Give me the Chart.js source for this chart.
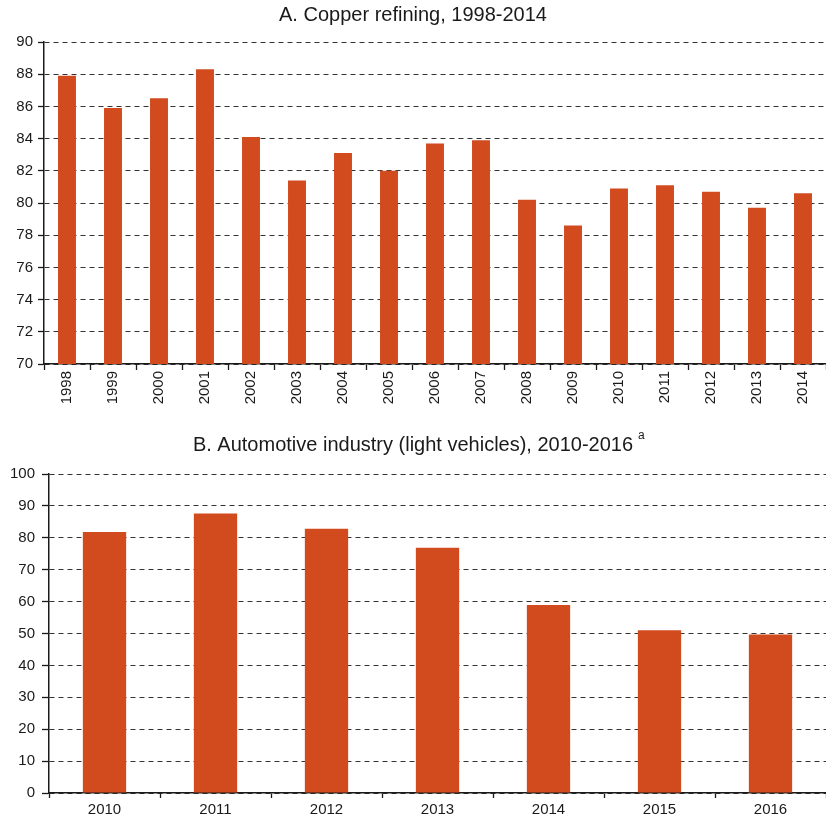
<!DOCTYPE html>
<html>
<head>
<meta charset="utf-8">
<script src="https://cdn.jsdelivr.net/npm/chart.js@4/dist/chart.umd.min.js"></script>
<style>
  html, body { margin: 0; padding: 0; background: #ffffff; }
  #wrap { position: relative; width: 826px; height: 815px; overflow: hidden; }
  canvas { display: block; }
</style>
</head>
<body>
<div id="wrap">
  <canvas id="copper" width="826" height="414"></canvas>
  <canvas id="auto" width="826" height="401"></canvas>
</div>
<script>
// Panel A: copper refining
const copperYears = ['1998','1999','2000','2001','2002','2003','2004','2005','2006','2007','2008','2009','2010','2011','2012','2013','2014'];
const copperValues = [87.9, 85.9, 86.5, 88.3, 84.1, 81.4, 83.1, 82.0, 83.7, 83.9, 80.2, 78.6, 80.9, 81.1, 80.7, 79.7, 80.6];
const copperTitle = 'A. Copper refining, 1998-2014';

// Panel B: automotive industry (light vehicles)
const autoYears = ['2010','2011','2012','2013','2014','2015','2016'];
const autoValues = [81.8, 87.6, 82.8, 76.9, 58.9, 51.0, 49.7];
const autoTitle = 'B. Automotive industry (light vehicles), 2010-2016';
const autoTitleNote = 'a';

const BAR = '#d14b1f';
const INK = '#1a1a1a';
const GRID = '#333333';
const FONT = "'Liberation Sans', Arial, Helvetica, sans-serif";

// Draws a small superscript marker right after the chart title
const titleNote = {
  id: 'titleNote',
  afterDraw(chart, args, opts) {
    if (!opts || !opts.text) return;
    const tb = chart.titleBlock;
    const t = chart.options.plugins.title;
    const ctx = chart.ctx;
    ctx.save();
    ctx.font = `${t.font.size}px ${FONT}`;
    const w = ctx.measureText(t.text).width;
    const cx = (tb.left + tb.right) / 2;
    const cy = tb.top + t.padding.top + t.font.size * 1.2 / 2;
    ctx.font = `${opts.size}px ${FONT}`;
    ctx.fillStyle = INK;
    ctx.textAlign = 'left';
    ctx.textBaseline = 'middle';
    ctx.fillText(opts.text, cx + w / 2 + opts.gap, cy + opts.dy);
    ctx.restore();
  }
};

function makeChart(id, labels, values, cfg) {
  return new Chart(document.getElementById(id), {
    type: 'bar',
    data: {
      labels: labels,
      datasets: [{
        data: values,
        backgroundColor: BAR,
        borderWidth: 0,
        categoryPercentage: 1,
        barPercentage: 0.39
      }]
    },
    options: {
      responsive: false,
      animation: false,
      devicePixelRatio: 1,
      layout: { padding: 0 },
      plugins: {
        legend: { display: false },
        tooltip: { enabled: false },
        title: {
          display: true,
          text: cfg.title,
          color: INK,
          font: { family: FONT, size: 20, weight: 'normal' },
          padding: cfg.titlePad
        },
        titleNote: cfg.note || {}
      },
      scales: {
        x: {
          offset: true,
          grid: {
            display: true,
            drawOnChartArea: false,
            offset: true,
            tickLength: cfg.xTick,
            tickColor: INK,
            tickWidth: 1.3
          },
          border: { display: true, color: INK, width: 1.5 },
          ticks: {
            color: INK,
            font: { family: FONT, size: 15 },
            padding: cfg.xPad,
            minRotation: cfg.rot,
            maxRotation: cfg.rot,
            autoSkip: false
          },
          afterFit(scale) { scale.height = cfg.xHeight; }
        },
        y: {
          min: cfg.min,
          max: cfg.max,
          grid: {
            color: GRID,
            lineWidth: 1,
            tickLength: cfg.yTick,
            tickColor: INK,
            tickWidth: 1.3,
            tickBorderDash: []
          },
          border: { display: true, color: INK, width: 1.5, dash: [5, 4] },
          ticks: {
            stepSize: cfg.step,
            color: INK,
            font: { family: FONT, size: 15 },
            padding: cfg.yPad
          },
          afterFit(scale) { scale.width = cfg.yWidth; }
        }
      }
    },
    plugins: [titleNote]
  });
}

makeChart('copper', copperYears, copperValues, {
  title: copperTitle,
  titlePad: { top: 3, bottom: 15 },
  min: 70, max: 90, step: 2,
  rot: 90, xTick: 6, xPad: 1, xHeight: 50,
  yTick: 6, yPad: 5, yWidth: 44
});

makeChart('auto', autoYears, autoValues, {
  title: autoTitle,
  titlePad: { top: 19, bottom: 17 },
  note: { text: autoTitleNote, size: 12, gap: 5, dy: -9 },
  min: 0, max: 100, step: 10,
  rot: 0, xTick: 5, xPad: 3, xHeight: 22,
  yTick: 7, yPad: 7, yWidth: 49
});
</script>
</body>
</html>
